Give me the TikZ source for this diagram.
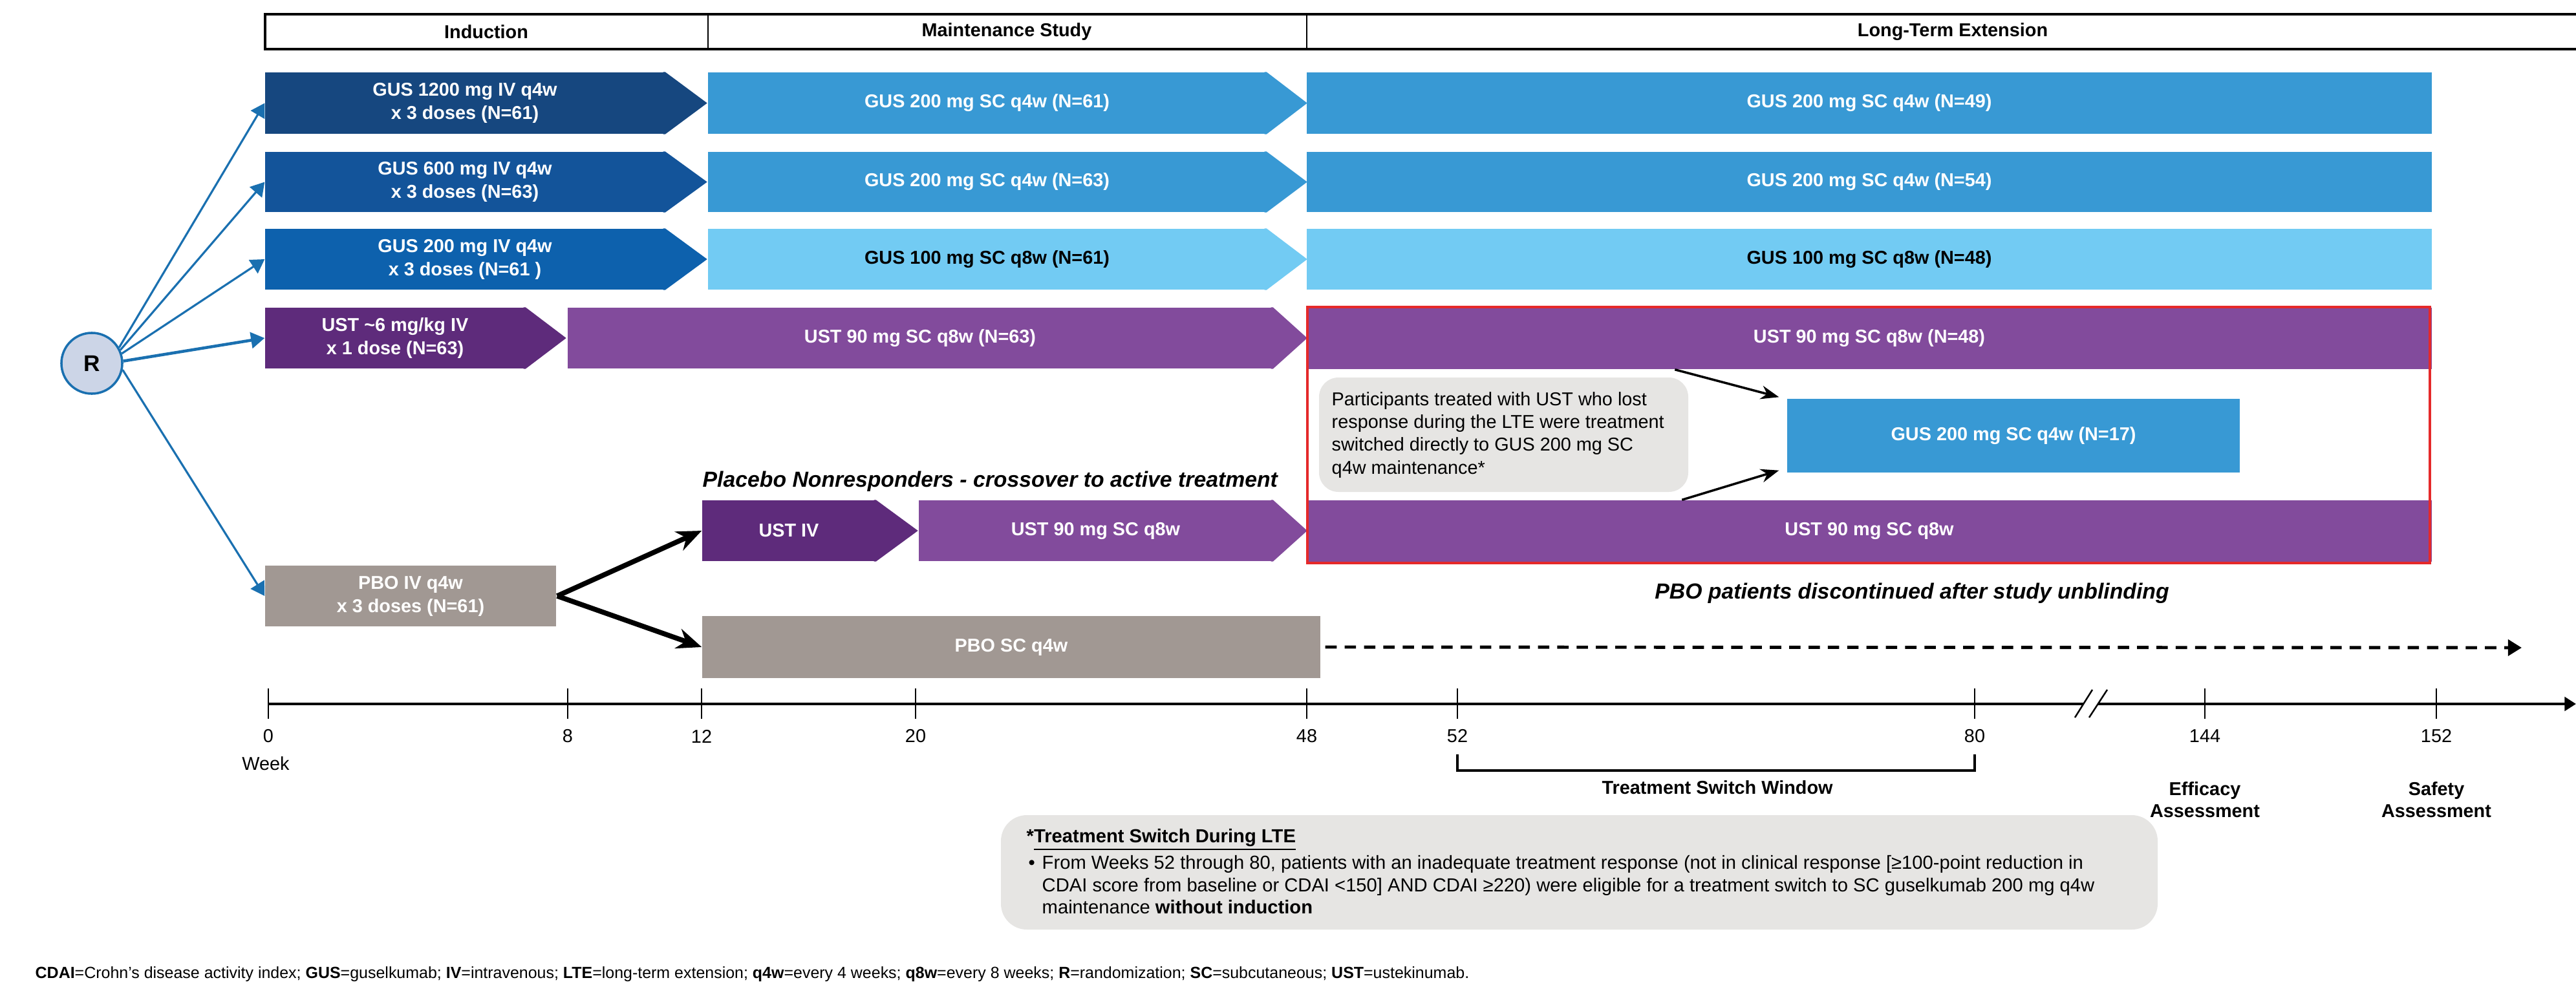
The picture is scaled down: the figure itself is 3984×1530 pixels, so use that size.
\documentclass[tikz,border=0pt]{standalone}
\usepackage{fontspec}
\setmainfont{Liberation Sans}
\usetikzlibrary{calc,fit,arrows.meta}
\definecolor{gi1}{HTML}{16477F}
\definecolor{gi2}{HTML}{13549A}
\definecolor{gi3}{HTML}{0D61AD}
\definecolor{ustind}{HTML}{5E2B7B}
\definecolor{gus200}{HTML}{3899D4}
\definecolor{gus100}{HTML}{72CBF3}
\definecolor{ust90}{HTML}{824B9C}
\definecolor{pbo}{HTML}{A19893}
\definecolor{callgray}{HTML}{E6E5E3}
\definecolor{redc}{HTML}{E5292A}
\definecolor{rfill}{HTML}{CCD5E7}
\definecolor{rblue}{HTML}{1A70B0}
\newcommand\arrtip[3]{\fill[#1] ($(#2.north east)+(-3,0)$) -- (#2.north east) -- ($(#2.east)+(#3,0)$) -- (#2.south east) -- ($(#2.south east)+(-3,0)$) -- cycle;}
\begin{document}
\begin{tikzpicture}[x=0.01cm,y=-0.01cm,
  bxf/.style={inner sep=0pt, draw=none},
  bx/.style={inner sep=0pt, align=center, font=\fontsize{8.2}{10.2}\selectfont\bfseries, text=white},
  hdr/.style={font=\fontsize{8.2}{10}\selectfont\bfseries, inner sep=0pt},
  tl/.style={font=\fontsize{8.2}{10}\selectfont, inner sep=0pt},
  lblb/.style={font=\fontsize{8.2}{9.6}\selectfont\bfseries, inner sep=0pt, align=center},
  ital/.style={font=\fontsize{9.6}{11}\selectfont\bfseries\itshape, inner sep=0pt},
  txt/.style={font=\fontsize{8.3}{10}\selectfont, inner sep=0pt, anchor=base west},
  blarrow/.style={draw=rblue, line width=0.9pt, -{Triangle[length=6pt,width=7pt]}},
  bkarrow/.style={draw=black, line width=2.2pt, -{Stealth[length=11pt,width=9pt]}},
  rdarrow/.style={draw=black, line width=1pt, -{Stealth[length=8pt,width=6pt]}}
]
\useasboundingbox (0,0) rectangle (3984,1530);

% header
\draw[line width=1.2pt] (3984,22) -- (410,22) -- (410,76) -- (3984,76);
\draw[line width=0.6pt] (1095,22) -- (1095,76) (2021,22) -- (2021,76);
\node[hdr] (hInd) at (752,49) {Induction};
\node[hdr] (hMaint) at (1557,49) {Maintenance Study};
\node[hdr] (hLTE) at (3020,49) {Long-Term Extension};

% induction
\node[bxf, fill=gi1, fit={(410,112) (1028,207)}] (ind1) {};
\arrtip{gi1}{ind1}{65}
\node[bx] (ind1t) at (ind1.center) {GUS 1200 mg IV q4w\\x 3 doses (N=61)};
\node[bxf, fill=gi2, fit={(410,235) (1028,328)}] (ind2) {};
\arrtip{gi2}{ind2}{65}
\node[bx] (ind2t) at (ind2.center) {GUS 600 mg IV q4w\\x 3 doses (N=63)};
\node[bxf, fill=gi3, fit={(410,354) (1028,448)}] (ind3) {};
\arrtip{gi3}{ind3}{65}
\node[bx] (ind3t) at (ind3.center) {GUS 200 mg IV q4w\\x 3 doses (N=61 )};
\node[bxf, fill=ustind, fit={(410,476) (812,570)}] (ind4) {};
\arrtip{ustind}{ind4}{63}
\node[bx] (ind4t) at (ind4.center) {UST \textasciitilde6 mg/kg IV\\x 1 dose (N=63)};
\node[bxf, fill=pbo, fit={(410,875) (860,969)}] (pboIV) {};
\node[bx] (pboIVt) at (pboIV.center) {PBO IV q4w\\x 3 doses (N=61)};

% maintenance
\node[bxf, fill=gus200, fit={(1095,112) (1958,207)}] (m1) {};
\arrtip{gus200}{m1}{63}
\node[bx] (m1t) at (m1.center) {GUS 200 mg SC q4w (N=61)};
\node[bxf, fill=gus200, fit={(1095,235) (1958,328)}] (m2) {};
\arrtip{gus200}{m2}{63}
\node[bx] (m2t) at (m2.center) {GUS 200 mg SC q4w (N=63)};
\node[bxf, fill=gus100, fit={(1095,354) (1958,448)}] (m3) {};
\arrtip{gus100}{m3}{63}
\node[bx, text=black] (m3t) at (m3.center) {GUS 100 mg SC q8w (N=61)};
\node[bxf, fill=ust90, fit={(878,476) (1968,570)}] (m4) {};
\arrtip{ust90}{m4}{53}
\node[bx] (m4t) at (m4.center) {UST 90 mg SC q8w (N=63)};

% crossover
\node[ital, anchor=base west] (xTitle) at (1086,753) {Placebo Nonresponders - crossover to active treatment};
\node[bxf, fill=ustind, fit={(1086,774) (1354,868)}] (xUIV) {};
\arrtip{ustind}{xUIV}{65}
\node[bx] (xUIVt) at (xUIV.center) {UST IV};
\node[bxf, fill=ust90, fit={(1421,774) (1968,868)}] (xU90) {};
\arrtip{ust90}{xU90}{53}
\node[bx] (xU90t) at (xU90.center) {UST 90 mg SC q8w};
\node[bxf, fill=pbo, fit={(1086,953) (2042,1049)}] (pboSC) {};
\node[bx] (pboSCt) at (pboSC.center) {PBO SC q4w};

% LTE
\node[bxf, fill=gus200, fit={(2021,112) (3761,207)}] (l1) {};
\node[bx] (l1t) at (l1.center) {GUS 200 mg SC q4w (N=49)};
\node[bxf, fill=gus200, fit={(2021,235) (3761,328)}] (l2) {};
\node[bx] (l2t) at (l2.center) {GUS 200 mg SC q4w (N=54)};
\node[bxf, fill=gus100, fit={(2021,354) (3761,448)}] (l3) {};
\node[bx, text=black] (l3t) at (l3.center) {GUS 100 mg SC q8w (N=48)};
\node[bxf, fill=ust90, fit={(2021,476) (3761,571)}] (l4) {};
\node[bx] (l4t) at (l4.center) {UST 90 mg SC q8w (N=48)};
\node[bxf, fill=ust90, fit={(2021,774) (3761,869)}] (l5) {};
\node[bx] (l5t) at (l5.center) {UST 90 mg SC q8w};
\node[bxf, fill=gus200, fit={(2764,617) (3464,731)}] (g17) {};
\node[bx] (g17t) at (g17.center) {GUS 200 mg SC q4w (N=17)};
\node[bxf, fill=callgray, rounded corners=0.3cm, fit={(2040,584) (2611,761)}] (call) {};
\node[font=\fontsize{8.2}{9.96}\selectfont, align=left, anchor=west, inner sep=0pt] (callTxt) at (2059,673)
  {Participants treated with UST who lost\\response during the LTE were treatment\\switched directly to GUS 200 mg SC\\q4w maintenance*};
\draw[redc, line width=1.3pt] (2022,475) rectangle (3758,871);
\draw[rdarrow] ($(l4.south west)+(570,0)$) -- ($(g17.north west)+(-12,-2)$);
\draw[rdarrow] ($(l5.north west)+(581,0)$) -- ($(g17.south west)+(-12,-4)$);

\node[ital] (pboDisc) at (2957,918) {PBO patients discontinued after study unblinding};
\coordinate (dashEnd) at (3900,1002);
\draw[line width=1.4pt, dash pattern=on 5pt off 3.5pt, -{Triangle[length=6pt,width=7pt]}] ($(pboSC.east)+(7,0)$) -- (dashEnd);

% R and arrows
\node[circle, fill=rfill, draw=rblue, line width=1pt, minimum size=0.94cm, inner sep=0pt, font=\fontsize{10}{12}\selectfont\bfseries] (R) at (142,562) {R};
\draw[blarrow] (R.30) -- (ind1.west);
\draw[blarrow] (R.25) -- (ind2.west);
\draw[blarrow] (R.18) -- (ind3.west);
\draw[blarrow, line width=1.3pt] (R.4) -- (ind4.west);
\draw[blarrow] (R.-12) -- (pboIV.west);

% crossover arrows
\draw[bkarrow] ($(pboIV.east)+(1,0)$) -- (xUIV.west);
\draw[bkarrow] ($(pboIV.east)+(1,0)$) -- (pboSC.west);

% timeline
\draw[line width=1.4pt] (415,1089) -- (3222,1089);
\draw[line width=1.4pt, -{Triangle[length=5pt,width=6pt]}] (3245,1089) -- (3984,1089);
\draw[line width=0.7pt] (3209,1110) -- (3236,1067) (3231,1110) -- (3259,1067);
\foreach \x/\l in {415/0, 878/8, 1085/12, 1416/20, 2021/48, 2254/52, 3054/80, 3410/144, 3768/152}{
  \draw[line width=0.6pt] (\x,1065) -- (\x,1112);
  \node[tl] (t\l) at (\x,1139) {\l};
}
\node[tl] (week) at (411,1181) {Week};
\draw[line width=0.9pt] (2254,1167) |- (3054,1192) -- (3054,1167);
\node[lblb] (tsw) at (2656,1218) {Treatment Switch Window};
\node[lblb] (eff) at (3410,1237) {Efficacy\\Assessment};
\node[lblb] (saf) at (3768,1237) {Safety\\Assessment};

% footnote box
\node[bxf, fill=callgray, rounded corners=0.4cm, fit={(1548,1261) (3337,1438)}] (fnbox) {};
\node[txt, font=\fontsize{8.3}{10}\selectfont\bfseries] (fnT) at (1587,1303) {*\underline{Treatment Switch During LTE}};
\node[txt] (bul) at (1590,1344) {•};
\node[txt] (fn1) at (1611,1344) {From Weeks 52 through 80, patients with an inadequate treatment response (not in clinical response [≥100-point reduction in};
\node[txt] (fn2) at (1611,1379) {CDAI score from baseline or CDAI <150] AND CDAI ≥220) were eligible for a treatment switch to SC guselkumab 200 mg q4w};
\node[txt] (fn3) at (1611,1413) {maintenance \textbf{without induction}};

\node[txt, font=\fontsize{7.1}{9}\selectfont] (abbr) at (54,1513) {\textbf{CDAI}=Crohn's disease activity index; \textbf{GUS}=guselkumab; \textbf{IV}=intravenous; \textbf{LTE}=long-term extension; \textbf{q4w}=every 4 weeks; \textbf{q8w}=every 8 weeks; \textbf{R}=randomization; \textbf{SC}=subcutaneous; \textbf{UST}=ustekinumab.};
\end{tikzpicture}
\end{document}
